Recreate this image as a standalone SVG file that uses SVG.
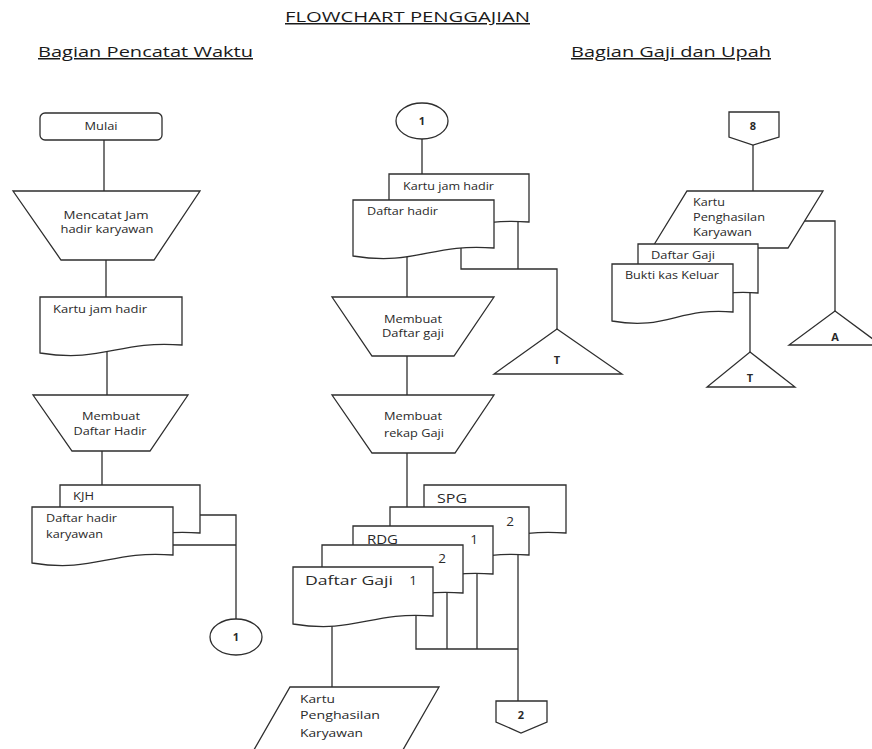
<svg xmlns="http://www.w3.org/2000/svg" width="872" height="749" viewBox="0 0 872 749">
<style>
.s{fill:#fff;stroke:#2e2e2e;stroke-width:1.3}
.c{fill:none;stroke:#2e2e2e;stroke-width:1.3}
text{font-family:"Open Sans","Liberation Sans",sans-serif;fill:#2a2a2a;font-size:11px}
.h{font-size:15px;text-decoration:underline;fill:#1a1a1a}
.m{text-anchor:middle}
.b{font-weight:bold}
.l{font-size:13.5px}
</style>
<rect width="872" height="749" fill="#fff"/>
<g id="headers">
<text class="h" x="285" y="22" textLength="245" lengthAdjust="spacingAndGlyphs">FLOWCHART PENGGAJIAN</text>
<text class="h" x="38" y="57" textLength="215" lengthAdjust="spacingAndGlyphs">Bagian Pencatat Waktu</text>
<text class="h" x="571" y="57" textLength="200" lengthAdjust="spacingAndGlyphs">Bagian Gaji dan Upah</text>
</g>
<g id="connectors">
<path class="c" d="M104,139 V191"/>
<path class="c" d="M106,260 V297"/>
<path class="c" d="M107,348 V395"/>
<path class="c" d="M102,451 V485"/>
<path class="c" d="M195,515 H236 V619"/>
<path class="c" d="M170,545 H236"/>
<path class="c" d="M422,139 V174"/>
<path class="c" d="M518,215 V269"/>
<path class="c" d="M461,245 V269 H557 V329"/>
<path class="c" d="M407,252 V297"/>
<path class="c" d="M407,356 V395"/>
<path class="c" d="M407,453 V507"/>
<path class="c" d="M416,610 V649 H518"/>
<path class="c" d="M447,589 V649"/>
<path class="c" d="M477,570 V649"/>
<path class="c" d="M518,551 V701"/>
<path class="c" d="M332,618 V687"/>
<path class="c" d="M753,145 V191"/>
<path class="c" d="M803,221 H835 V311"/>
<path class="c" d="M750,290 V352"/>
</g>
<g id="mulai">
<rect class="s" x="40" y="113" width="122" height="27" rx="5"/>
<text class="m" x="101" y="130" textLength="33" lengthAdjust="spacingAndGlyphs">Mulai</text>
</g>
<g id="mencatat">
<path class="s" d="M13,191 H200 L154,260 H61 Z"/>
<text class="m" x="106" y="219" textLength="85" lengthAdjust="spacingAndGlyphs">Mencatat Jam</text>
<text class="m" x="107" y="233" textLength="93" lengthAdjust="spacingAndGlyphs">hadir karyawan</text>
</g>
<g id="kartu-jam-hadir-1">
<path class="s" d="M40,297 H182 V345 C118,340 104,363 40,353 Z"/>
<text x="53" y="313" textLength="94" lengthAdjust="spacingAndGlyphs">Kartu jam hadir</text>
</g>
<g id="membuat-daftar-hadir">
<path class="s" d="M33,395 H188 L150,451 H72 Z"/>
<text class="m" x="111" y="420" textLength="58" lengthAdjust="spacingAndGlyphs">Membuat</text>
<text class="m" x="110" y="435" textLength="73" lengthAdjust="spacingAndGlyphs">Daftar Hadir</text>
</g>
<g id="kjh">
<path class="s" d="M60,485 H200 V533 C137,528 123,551 60,541 Z"/>
<text x="73" y="500" textLength="21" lengthAdjust="spacingAndGlyphs">KJH</text>
</g>
<g id="daftar-hadir-karyawan">
<path class="s" d="M32,507 H173 V555 C110,550 95,573 32,563 Z"/>
<text x="46" y="522" textLength="71" lengthAdjust="spacingAndGlyphs">Daftar hadir</text>
<text x="46" y="538" textLength="57" lengthAdjust="spacingAndGlyphs">karyawan</text>
</g>
<g id="conn-1-left">
<ellipse class="s" cx="236" cy="637" rx="26" ry="18"/>
<text class="m b" x="236" y="641">1</text>
</g>
<g id="conn-1-mid">
<ellipse class="s" cx="422" cy="121" rx="26" ry="18"/>
<text class="m b" x="422" y="125">1</text>
</g>
<g id="kartu-jam-hadir-2">
<path class="s" d="M389,174 H529 V222 C466,217 452,240 389,230 Z"/>
<text x="403" y="190" textLength="91" lengthAdjust="spacingAndGlyphs">Kartu jam hadir</text>
</g>
<g id="daftar-hadir">
<path class="s" d="M353,200 H494 V248 C431,243 416,266 353,256 Z"/>
<text x="367" y="215" textLength="71" lengthAdjust="spacingAndGlyphs">Daftar hadir</text>
</g>
<g id="t-mid">
<path class="s" d="M557,329 L622,374 H494 Z"/>
<text class="m b" x="557" y="364">T</text>
</g>
<g id="membuat-daftar-gaji">
<path class="s" d="M332,297 H494 L454,356 H372 Z"/>
<text class="m" x="413" y="323" textLength="58" lengthAdjust="spacingAndGlyphs">Membuat</text>
<text class="m" x="413" y="337" textLength="62" lengthAdjust="spacingAndGlyphs">Daftar gaji</text>
</g>
<g id="membuat-rekap-gaji">
<path class="s" d="M332,395 H494 L455,453 H372 Z"/>
<text class="m" x="413" y="420" textLength="58" lengthAdjust="spacingAndGlyphs">Membuat</text>
<text class="m" x="414" y="437" textLength="60" lengthAdjust="spacingAndGlyphs">rekap Gaji</text>
</g>
<g id="spg">
<path class="s" d="M424,485 H566 V533 C502,528 488,551 424,541 Z"/>
<text class="l" x="437" y="503" textLength="30" lengthAdjust="spacingAndGlyphs">SPG</text>
</g>
<g id="spg-2">
<path class="s" d="M390,507 H529 V555 C466,550 453,573 390,563 Z"/>
<text class="l" x="510" y="526" text-anchor="middle">2</text>
</g>
<g id="rdg">
<path class="s" d="M353,526 H493 V574 C430,569 416,592 353,582 Z"/>
<text class="l" x="367" y="544" textLength="31" lengthAdjust="spacingAndGlyphs">RDG</text>
<text class="l" x="474" y="544" text-anchor="middle">1</text>
</g>
<g id="rdg-2">
<path class="s" d="M322,545 H463 V593 C400,588 385,611 322,601 Z"/>
<text class="l" x="442" y="563" text-anchor="middle">2</text>
</g>
<g id="daftar-gaji-1">
<path class="s" d="M293,567 H433 V616 C370,611 356,634 293,624 Z"/>
<text class="l" x="305" y="585" textLength="88" lengthAdjust="spacingAndGlyphs">Daftar Gaji</text>
<text class="l" x="413" y="585" text-anchor="middle">1</text>
</g>
<g id="kartu-penghasilan-1">
<path class="s" d="M290,687 H439 L400,755 H251 Z"/>
<text x="300" y="703" textLength="35" lengthAdjust="spacingAndGlyphs">Kartu</text>
<text x="300" y="719" textLength="80" lengthAdjust="spacingAndGlyphs">Penghasilan</text>
<text x="300" y="737" textLength="63" lengthAdjust="spacingAndGlyphs">Karyawan</text>
</g>
<g id="offpage-2">
<path class="s" d="M496,701 H547 V722 L521,733 L496,722 Z"/>
<text class="m b" x="521" y="719">2</text>
</g>
<g id="offpage-8">
<path class="s" d="M729,112 H779 V137 L753,145 L729,137 Z"/>
<text class="m b" x="753" y="130">8</text>
</g>
<g id="kartu-penghasilan-2">
<path class="s" d="M687,191 H823 L788,248 H652 Z"/>
<text x="693" y="206" textLength="32" lengthAdjust="spacingAndGlyphs">Kartu</text>
<text x="693" y="221" textLength="72" lengthAdjust="spacingAndGlyphs">Penghasilan</text>
<text x="693" y="236" textLength="59" lengthAdjust="spacingAndGlyphs">Karyawan</text>
</g>
<g id="daftar-gaji-2">
<path class="s" d="M638,244 H758 V293 C704,288 692,311 638,301 Z"/>
<text x="651" y="259" textLength="64" lengthAdjust="spacingAndGlyphs">Daftar Gaji</text>
</g>
<g id="bukti-kas-keluar">
<path class="s" d="M612,264 H733 V312 C679,307 666,331 612,321 Z"/>
<text x="625" y="279" textLength="94" lengthAdjust="spacingAndGlyphs">Bukti kas Keluar</text>
</g>
<g id="a">
<path class="s" d="M835,311 L881,345 H789 Z"/>
<text class="m b" x="835" y="341">A</text>
</g>
<g id="t-right">
<path class="s" d="M750,352 L795,387 H707 Z"/>
<text class="m b" x="750" y="382">T</text>
</g>
</svg>
